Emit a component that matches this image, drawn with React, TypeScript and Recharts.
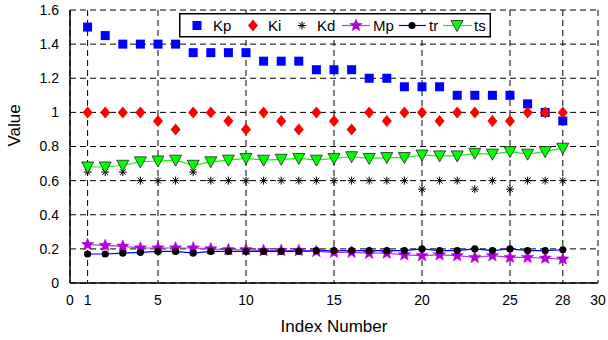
import React from 'react';
import { ComposedChart, Line, XAxis, YAxis, CartesianGrid, Legend } from 'recharts';

const indexNumbers = [1, 2, 3, 4, 5, 6, 7, 8, 9, 10, 11, 12, 13, 14, 15, 16, 17, 18, 19, 20, 21, 22, 23, 24, 25, 26, 27, 28];
const kpValues = [1.5, 1.45, 1.4, 1.4, 1.4, 1.4, 1.35, 1.35, 1.35, 1.35, 1.3, 1.3, 1.3, 1.25, 1.25, 1.25, 1.2, 1.2, 1.15, 1.15, 1.15, 1.1, 1.1, 1.1, 1.1, 1.05, 1.0, 0.95];
const kiValues = [1.0, 1.0, 1.0, 1.0, 0.95, 0.9, 1.0, 1.0, 0.95, 0.9, 1.0, 0.95, 0.9, 1.0, 0.95, 0.9, 1.0, 0.95, 1.0, 1.0, 0.95, 1.0, 1.0, 0.95, 0.95, 1.0, 1.0, 1.0];
const kdValues = [0.65, 0.65, 0.65, 0.6, 0.6, 0.6, 0.65, 0.6, 0.6, 0.6, 0.6, 0.6, 0.6, 0.6, 0.6, 0.6, 0.6, 0.6, 0.6, 0.55, 0.6, 0.6, 0.55, 0.6, 0.55, 0.6, 0.6, 0.6];
const mpValues = [0.225, 0.22, 0.215, 0.205, 0.205, 0.205, 0.205, 0.2, 0.195, 0.195, 0.19, 0.19, 0.19, 0.185, 0.18, 0.18, 0.175, 0.175, 0.165, 0.16, 0.165, 0.16, 0.15, 0.16, 0.15, 0.15, 0.145, 0.14];
const trValues = [0.17, 0.17, 0.175, 0.18, 0.185, 0.185, 0.175, 0.185, 0.185, 0.185, 0.185, 0.185, 0.185, 0.19, 0.19, 0.19, 0.19, 0.19, 0.19, 0.2, 0.19, 0.19, 0.2, 0.19, 0.2, 0.19, 0.19, 0.195];
const tsValues = [0.68, 0.68, 0.69, 0.71, 0.715, 0.72, 0.69, 0.71, 0.72, 0.73, 0.72, 0.725, 0.73, 0.72, 0.73, 0.74, 0.73, 0.735, 0.735, 0.75, 0.745, 0.745, 0.76, 0.755, 0.77, 0.755, 0.77, 0.79];

const xTicks = [0, 1, 5, 10, 15, 20, 25, 28, 30];
const yTicks = [0, 0.2, 0.4, 0.6, 0.8, 1.0, 1.2, 1.4, 1.6];

const data = indexNumbers.map((idx, i) => ({
  idx,
  Kp: kpValues[i],
  Ki: kiValues[i],
  Kd: kdValues[i],
  Mp: mpValues[i],
  tr: trValues[i],
  ts: tsValues[i],
}));

const BLUE = '#0000ff';
const RED = '#ff0000';
const STAR = '#b000d8';
const STAR_LINE = '#a040f0';
const GREEN = '#00ff00';
const FONT = 'Liberation Sans, Arial, sans-serif';

const starPoints = (cx: number, cy: number, ro: number, ri: number) => {
  const pts: string[] = [];
  for (let k = 0; k < 10; k++) {
    const r = k % 2 === 0 ? ro : ri;
    const a = -Math.PI / 2 + (k * Math.PI) / 5;
    pts.push(`${cx + r * Math.cos(a)},${cy + r * Math.sin(a)}`);
  }
  return pts.join(' ');
};

const SquareMark = ({ cx, cy }: { cx: number; cy: number }) => (
  <rect x={cx - 4.5} y={cy - 4.5} width={9} height={9} fill={BLUE} />
);
const DiamondMark = ({ cx, cy }: { cx: number; cy: number }) => (
  <polygon points={`${cx},${cy - 6} ${cx + 5},${cy} ${cx},${cy + 6} ${cx - 5},${cy}`} fill={RED} />
);
const AsteriskMark = ({ cx, cy }: { cx: number; cy: number }) => {
  const r = 4;
  const d = 2.9;
  return (
    <g stroke="#000" strokeWidth={1}>
      <line x1={cx - r} y1={cy} x2={cx + r} y2={cy} />
      <line x1={cx} y1={cy - r} x2={cx} y2={cy + r} />
      <line x1={cx - d} y1={cy - d} x2={cx + d} y2={cy + d} />
      <line x1={cx - d} y1={cy + d} x2={cx + d} y2={cy - d} />
    </g>
  );
};
const StarMark = ({ cx, cy }: { cx: number; cy: number }) => (
  <polygon points={starPoints(cx, cy, 6.5, 2.8)} fill={STAR} stroke={STAR} strokeWidth={0.5} />
);
const DotMark = ({ cx, cy }: { cx: number; cy: number }) => <circle cx={cx} cy={cy} r={3.6} fill="#000" />;
const TriMark = ({ cx, cy }: { cx: number; cy: number }) => (
  <polygon points={`${cx - 6},${cy - 5} ${cx + 6},${cy - 5} ${cx},${cy + 6}`} fill={GREEN} stroke="#222" strokeWidth={0.8} />
);

const dotFn = (Comp: any) => (props: any) => {
  if (props.cx == null || props.cy == null) return <g key={props.index} />;
  return (
    <g key={`${props.dataKey}-${props.index}`}>
      <Comp cx={props.cx} cy={props.cy} />
    </g>
  );
};

const LegendBox = () => (
  <svg width={312} height={25} style={{ display: 'block' }}>
    <rect x={0.75} y={0.75} width={310.5} height={23} fill="#fff" stroke="#000" strokeWidth={1.5} />
    <g fontFamily={FONT} fontSize={15} fill="#000">
      <SquareMark cx={18} cy={12.5} />
      <text x={34} y={18}>Kp</text>
      <DiamondMark cx={74} cy={12.5} />
      <text x={89} y={18}>Ki</text>
      <AsteriskMark cx={123} cy={12.5} />
      <text x={138} y={18}>Kd</text>
      <line x1={163} y1={12.5} x2={191} y2={12.5} stroke={STAR_LINE} strokeWidth={1.2} />
      <StarMark cx={177} cy={12.5} />
      <text x={194} y={18}>Mp</text>
      <line x1={220} y1={12.5} x2={247} y2={12.5} stroke={BLUE} strokeWidth={1.2} />
      <DotMark cx={233} cy={12.5} />
      <text x={250} y={18}>tr</text>
      <line x1={264} y1={12.5} x2={293} y2={12.5} stroke={GREEN} strokeWidth={1.2} />
      <TriMark cx={278} cy={12.5} />
      <text x={295} y={18}>ts</text>
    </g>
  </svg>
);

const fmt = (v: number) => String(Number(v.toFixed(1)));

export default function App() {
  return (
    <div style={{ position: 'absolute', left: 0, top: 0, background: '#fff' }}>
      <ComposedChart
        width={608}
        height={340}
        data={data}
        margin={{ top: 10, right: 10, bottom: 0, left: 0 }}
        style={{ fontFamily: FONT }}
      >
        <CartesianGrid stroke="#000" strokeDasharray="6 4" strokeWidth={1} verticalValues={xTicks} horizontalValues={yTicks} />
        <XAxis
          dataKey="idx"
          type="number"
          domain={[0, 30]}
          ticks={xTicks}
          interval={0}
          allowDecimals={false}
          height={57}
          tickLine={false}
          axisLine={{ stroke: '#000', strokeWidth: 1.5 }}
          tick={{ fill: '#000', fontSize: 14 }}
          tickMargin={6}
          label={{ value: 'Index Number', position: 'insideBottom', offset: 8, fill: '#000', fontSize: 17 }}
        />
        <XAxis
          xAxisId="top"
          orientation="top"
          type="number"
          domain={[0, 30]}
          height={0}
          tick={false}
          tickLine={false}
          axisLine={{ stroke: '#000', strokeWidth: 1.5 }}
        />
        <YAxis
          type="number"
          domain={[0, 1.6]}
          ticks={yTicks}
          interval={0}
          width={70}
          tickLine={false}
          axisLine={{ stroke: '#000', strokeWidth: 1.5 }}
          tick={{ fill: '#000', fontSize: 14 }}
          tickFormatter={fmt}
          tickMargin={5}
          label={{ value: 'Value', angle: -90, position: 'insideLeft', offset: 14, fill: '#000', fontSize: 17 }}
        />
        <YAxis
          yAxisId="right"
          orientation="right"
          type="number"
          domain={[0, 1.6]}
          width={0}
          tick={false}
          tickLine={false}
          axisLine={{ stroke: '#000', strokeWidth: 1.5 }}
        />
        <Legend
          layout="horizontal"
          verticalAlign="middle"
          align="center"
          wrapperStyle={{ left: 179, top: 13, width: 312, height: 25 }}
          content={() => <LegendBox />}
        />
        <Line dataKey="Kp" stroke="none" dot={dotFn(SquareMark)} activeDot={false} isAnimationActive={false} legendType="square" />
        <Line dataKey="Ki" stroke="none" dot={dotFn(DiamondMark)} activeDot={false} isAnimationActive={false} legendType="diamond" />
        <Line dataKey="Kd" stroke="none" dot={dotFn(AsteriskMark)} activeDot={false} isAnimationActive={false} legendType="cross" />
        <Line dataKey="Mp" stroke={STAR_LINE} strokeWidth={1.2} dot={dotFn(StarMark)} activeDot={false} isAnimationActive={false} legendType="star" />
        <Line dataKey="tr" stroke={BLUE} strokeWidth={1.2} dot={dotFn(DotMark)} activeDot={false} isAnimationActive={false} legendType="circle" />
        <Line dataKey="ts" stroke={GREEN} strokeWidth={1.2} dot={dotFn(TriMark)} activeDot={false} isAnimationActive={false} legendType="triangle" />
      </ComposedChart>
    </div>
  );
}
